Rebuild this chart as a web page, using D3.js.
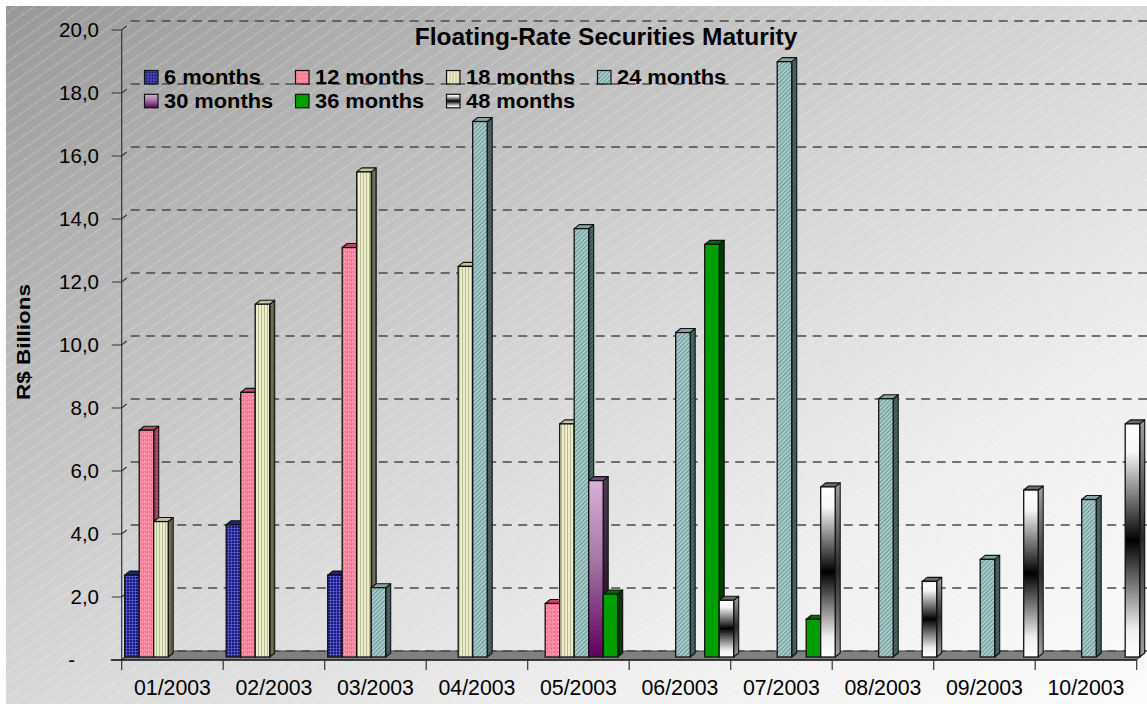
<!DOCTYPE html>
<html>
<head>
<meta charset="utf-8">
<script src="https://cdn.jsdelivr.net/npm/d3@7"></script>
<style>
  html, body { margin: 0; padding: 0; background: #ffffff; }
  svg { display: block; }
  text { font-family: "Liberation Sans", Arial, sans-serif; fill: #000; }
</style>
</head>
<body>
<svg id="chart" width="1147" height="704"></svg>
<script>
// Monthly maturities of floating-rate securities, R$ billions
const categories = ["01/2003", "02/2003", "03/2003", "04/2003", "05/2003",
                    "06/2003", "07/2003", "08/2003", "09/2003", "10/2003"];
const seriesNames = ["6 months", "12 months", "18 months", "24 months",
                     "30 months", "36 months", "48 months"];
const m6  = [2.6, 4.2,  2.6,  0,    0,    0,    0,    0,   0,   0];
const m12 = [7.2, 8.4, 13.0,  0,    1.7,  0,    0,    0,   0,   0];
const m18 = [4.3, 11.2, 15.4, 12.4, 7.4,  0,    0,    0,   0,   0];
const m24 = [0,   0,    2.2,  17.0, 13.6, 10.3, 18.9, 8.2, 3.1, 5.0];
const m30 = [0,   0,    0,    0,    5.6,  0,    0,    0,   0,   0];
const m36 = [0,   0,    0,    0,    2.0,  13.1, 1.2,  0,   0,   0];
const m48 = [0,   0,    0,    0,    0,    1.8,  5.4,  2.4, 5.3, 7.4];
const yTickValues = [0, 2, 4, 6, 8, 10, 12, 14, 16, 18, 20];
const titleText = "Floating-Rate Securities Maturity";
const yTitle = "R$ Billions";

const seriesValues = [m6, m12, m18, m24, m30, m36, m48];

const svg = d3.select("#chart");
const defs = svg.append("defs");

// ---- background: diagonal grey gradient with fine light hatching
const bg = defs.append("linearGradient").attr("id", "bgGrad")
  .attr("x1", 0).attr("y1", 0).attr("x2", 1).attr("y2", 1);
bg.append("stop").attr("offset", 0).attr("stop-color", "#989898");
bg.append("stop").attr("offset", 0.45).attr("stop-color", "#d2d2d2");
bg.append("stop").attr("offset", 0.75).attr("stop-color", "#efefef");
bg.append("stop").attr("offset", 1).attr("stop-color", "#fbfbfb");

const hatch = defs.append("pattern").attr("id", "bgHatch")
  .attr("patternUnits", "userSpaceOnUse").attr("width", 10).attr("height", 10)
  .attr("patternTransform", "rotate(-35)");
hatch.append("line").attr("x1", 0).attr("x2", 10).attr("y1", 5).attr("y2", 5)
  .attr("stroke", "#ffffff").attr("stroke-opacity", 0.42).attr("stroke-width", 0.8)
  .attr("stroke-dasharray", "3,1");

svg.append("rect").attr("x", 6).attr("y", 6).attr("width", 1141).attr("height", 698)
  .attr("fill", "url(#bgGrad)");
svg.append("rect").attr("x", 6).attr("y", 6).attr("width", 1141).attr("height", 698)
  .attr("fill", "url(#bgHatch)");

// ---- bar fills
function tile(id, w, h, base, draw, transform) {
  const p = defs.append("pattern").attr("id", id)
    .attr("patternUnits", "userSpaceOnUse").attr("width", w).attr("height", h);
  if (transform) p.attr("patternTransform", transform);
  p.append("rect").attr("width", w).attr("height", h).attr("fill", base);
  draw(p);
}
// 6 months: navy with a fine light grid
tile("p6", 3, 3, "#181878", p => {
  p.append("path").attr("d", "M0,0.5H3M0.5,0V3").attr("stroke", "#5c5cd0").attr("stroke-width", 0.8);
});
tile("p6s", 3, 3, "#101050", p => {
  p.append("path").attr("d", "M0,0.5H3M0.5,0V3").attr("stroke", "#2c2c88").attr("stroke-width", 0.8);
});
// 12 months: pink with small light waves
tile("p12", 4, 4, "#ff6486", p => {
  p.append("path").attr("d", "M0,1h1v1h1v-1h1M0,3h1M2,3h2").attr("stroke", "#ffb4c4").attr("stroke-width", 0.9).attr("fill", "none");
});
tile("p12s", 4, 4, "#a03c56", p => {
  p.append("path").attr("d", "M0,1h1v1h1v-1h1").attr("stroke", "#c86a80").attr("stroke-width", 0.8).attr("fill", "none");
});
// 18 months: pale yellow with vertical stripes
tile("p18", 3, 3, "#efeecb", p => {
  p.append("rect").attr("x", 0).attr("width", 1).attr("height", 3).attr("fill", "#b9b894");
});
tile("p18s", 3, 3, "#6e6d56", p => {
  p.append("rect").attr("x", 0).attr("width", 1).attr("height", 3).attr("fill", "#57563f");
});
// 24 months: teal grey with dense diagonal hatch
tile("p24", 3, 3, "#aacccc", p => {
  p.append("rect").attr("width", 1).attr("height", 3).attr("fill", "#6a9494");
}, "rotate(45)");
tile("p24s", 3, 3, "#4c6a6a", p => {
  p.append("rect").attr("width", 1).attr("height", 3).attr("fill", "#344a4a");
}, "rotate(45)");
// 36 months: green with faint dots
tile("p36", 3, 3, "#00a000", p => {
  p.append("rect").attr("x", 1).attr("y", 1).attr("width", 1).attr("height", 1).attr("fill", "#008a00");
});
// 30 months: light lilac to deep purple
const g30 = defs.append("linearGradient").attr("id", "g30").attr("x1", 0).attr("y1", 0).attr("x2", 0).attr("y2", 1);
g30.append("stop").attr("offset", 0).attr("stop-color", "#d8b0d8");
g30.append("stop").attr("offset", 0.45).attr("stop-color", "#a478a4");
g30.append("stop").attr("offset", 1).attr("stop-color", "#5e005e");
const g30s = defs.append("linearGradient").attr("id", "g30s").attr("x1", 0).attr("y1", 0).attr("x2", 0).attr("y2", 1);
g30s.append("stop").attr("offset", 0).attr("stop-color", "#4e3a4e");
g30s.append("stop").attr("offset", 1).attr("stop-color", "#2a002a");
// 48 months: white - black - white bands
const g48 = defs.append("linearGradient").attr("id", "g48").attr("x1", 0).attr("y1", 0).attr("x2", 0).attr("y2", 1);
[[0, "#ffffff"], [0.12, "#f6f6f6"], [0.5, "#000000"], [0.88, "#eeeeee"], [1, "#ffffff"]]
  .forEach(([o, c]) => g48.append("stop").attr("offset", o).attr("stop-color", c));
const g48s = defs.append("linearGradient").attr("id", "g48s").attr("x1", 0).attr("y1", 0).attr("x2", 0).attr("y2", 1);
[[0, "#a0a0a0"], [0.5, "#2a2a2a"], [1, "#a0a0a0"]]
  .forEach(([o, c]) => g48s.append("stop").attr("offset", o).attr("stop-color", c));

const styles = [
  { front: "url(#p6)",  side: "url(#p6s)",  top: "#22227e" },
  { front: "url(#p12)", side: "url(#p12s)", top: "#c04a66" },
  { front: "url(#p18)", side: "url(#p18s)", top: "#c4c3a4" },
  { front: "url(#p24)", side: "url(#p24s)", top: "#86a6a6" },
  { front: "url(#g30)", side: "url(#g30s)", top: "#7a4a7a" },
  { front: "url(#p36)", side: "#003c00",    top: "#006a00" },
  { front: "url(#g48)", side: "url(#g48s)", top: "#6a6a6a" }
];

// ---- scales
const x = d3.scaleBand().domain(categories).range([121.7, 1136.7]).paddingInner(0).paddingOuter(0);
const xs = d3.scaleBand().domain(seriesNames).range([3, 104.5]).padding(0);
const y = d3.scaleLinear().domain([0, 20]).range([660, 30]);

const wall = { dx: 9, dy: -9 };     // depth of the back wall
const bar = { dx: 5, dy: -4, lift: -3 }; // bar depth and plane
const x0 = x.range()[0], x1 = x.range()[1];

// ---- floor
svg.append("path")
  .attr("d", `M${x0},${y(0)}L${x1},${y(0)}L${x1 + wall.dx},${y(0) + wall.dy}L${x0 + wall.dx},${y(0) + wall.dy}Z`)
  .attr("fill", "#808080").attr("stroke", "#404040").attr("stroke-width", 1);

// ---- dashed gridlines on the back wall
svg.append("g").selectAll("line").data(yTickValues).join("line")
  .attr("x1", x0 + wall.dx).attr("x2", x1 + wall.dx + 2)
  .attr("y1", d => y(d) + wall.dy).attr("y2", d => y(d) + wall.dy)
  .attr("stroke", "#4a4a4a").attr("stroke-width", 1.4)
  .attr("stroke-dasharray", "9,6.5");

// ---- y axis
const yAxis = svg.append("g");
yAxis.append("line").attr("x1", x0).attr("x2", x0).attr("y1", y(20)).attr("y2", y(0) + 10)
  .attr("stroke", "#333").attr("stroke-width", 1.2);
const yt = yAxis.selectAll("g.tick").data(yTickValues).join("g").attr("class", "tick")
  .attr("transform", d => `translate(0,${y(d)})`);
yt.append("path").attr("d", `M${x0 - 10},0H${x0}l5,-4`).attr("fill", "none")
  .attr("stroke", "#333").attr("stroke-width", 1.2);
yt.append("text")
  .attr("x", d => d === 0 ? 75 : 99).attr("dy", "0.35em")
  .attr("text-anchor", "end").style("font-size", "20.5px")
  .text(d => d === 0 ? "-" : d3.format(".1f")(d).replace(".", ","));

// ---- x axis: front edge of floor and category ticks
const xAxis = svg.append("g");
xAxis.append("line").attr("x1", x0 - 11).attr("x2", x1).attr("y1", y(0)).attr("y2", y(0))
  .attr("stroke", "#222").attr("stroke-width", 1.3);
xAxis.selectAll("line.tk").data(categories.slice(1).concat([null])).join("line").attr("class", "tk")
  .attr("x1", (d, i) => x0 + x.step() * (i + 1)).attr("x2", (d, i) => x0 + x.step() * (i + 1))
  .attr("y1", y(0)).attr("y2", y(0) + 10).attr("stroke", "#333").attr("stroke-width", 1.2);
xAxis.selectAll("text").data(categories).join("text")
  .attr("x", d => x(d) + x.bandwidth() / 2).attr("y", 694.5)
  .attr("text-anchor", "middle").style("font-size", "21.3px").text(d => d);

// ---- 3D bars
const barData = [];
categories.forEach((c, ci) => {
  seriesValues.forEach((vals, si) => {
    if (vals[ci] > 0) barData.push({ c, s: seriesNames[si], si, v: vals[ci] });
  });
});
const bars = svg.append("g").selectAll("g").data(barData).join("g");
bars.each(function (d) {
  const g = d3.select(this);
  const bx = x(d.c) + xs(d.s);
  const w = xs.bandwidth();
  const yb = y(0) + bar.lift;
  const yt = y(d.v) + bar.lift;
  const st = styles[d.si];
  g.append("path")
    .attr("d", `M${bx + w},${yt}L${bx + w + bar.dx},${yt + bar.dy}L${bx + w + bar.dx},${yb + bar.dy}L${bx + w},${yb}Z`)
    .attr("fill", st.side).attr("stroke", "#111").attr("stroke-width", 1.1).attr("stroke-linejoin", "round");
  g.append("path")
    .attr("d", `M${bx},${yt}L${bx + bar.dx},${yt + bar.dy}L${bx + w + bar.dx},${yt + bar.dy}L${bx + w},${yt}Z`)
    .attr("fill", st.top).attr("stroke", "#111").attr("stroke-width", 1.1).attr("stroke-linejoin", "round");
  g.append("rect").attr("x", bx).attr("y", yt).attr("width", w).attr("height", yb - yt)
    .attr("fill", st.front).attr("stroke", "#111").attr("stroke-width", 1.3);
});

// ---- title
svg.append("text").attr("x", 606).attr("y", 44.5).attr("text-anchor", "middle")
  .style("font-size", "24.5px").style("font-weight", "bold").text(titleText);

// ---- y axis title
svg.append("text").attr("transform", "translate(30,342) rotate(-90) scale(1.18,1)")
  .attr("text-anchor", "middle").style("font-size", "19px").style("font-weight", "bold")
  .text(yTitle);

// ---- legend: 4 columns x 2 rows
const legend = svg.append("g").selectAll("g").data(seriesNames).join("g")
  .attr("transform", (d, i) => `translate(${144.5 + 151 * (i % 4)},${70.5 + 23.8 * Math.floor(i / 4)})`);
legend.append("rect").attr("width", 13.5).attr("height", 13.5)
  .attr("fill", (d, i) => styles[i].front).attr("stroke", "#111").attr("stroke-width", 1.2);
legend.append("text").attr("transform", "translate(19.5,13.6) scale(1.12,1)")
  .style("font-size", "19.5px").style("font-weight", "bold").text(d => d);
</script>
</body>
</html>
